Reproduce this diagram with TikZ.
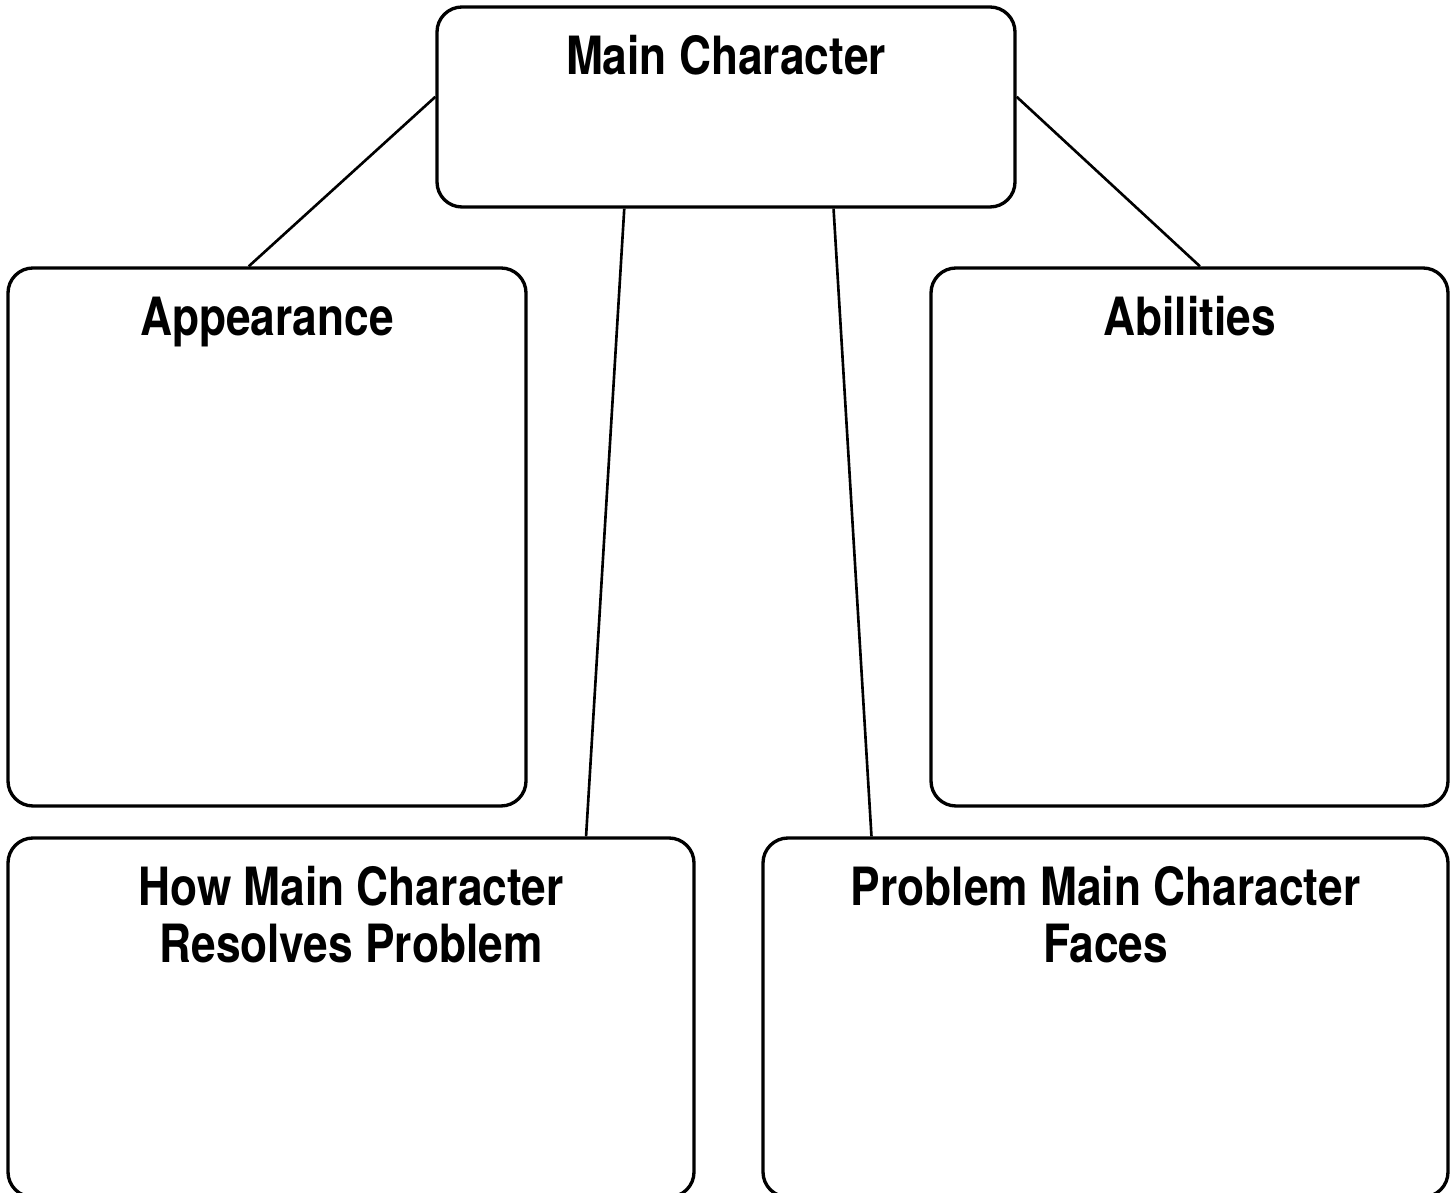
\documentclass[tikz,border=0pt]{standalone}
\usepackage{fontspec}
\setmainfont{TeX Gyre Heros}[FakeStretch=0.84]
\usetikzlibrary{positioning, calc}

\begin{document}
\begin{tikzpicture}[
  font=\bfseries\fontsize{30}{32}\selectfont,
  card/.style={draw, line width=1.9pt, rounded corners=0.5cm, inner sep=0pt},
  heading/.style={align=center, inner sep=0pt},
  link/.style={line width=1.5pt},
]
  \useasboundingbox (0,0) rectangle (29.1,23.84);

  % Boxes: character on top, four topics below
  \node[card, minimum width=11.56cm, minimum height=4cm]    (main)    at (14.52,21.70) {};
  \node[card, minimum width=10.36cm, minimum height=10.76cm] (looks)   at (5.34,13.10)  {};
  \node[card, minimum width=10.34cm, minimum height=10.76cm] (skills)  at (23.79,13.10) {};
  \node[card, minimum width=13.72cm, minimum height=7.18cm]  (resolve) at (7.02,3.49)   {};
  \node[card, minimum width=13.70cm, minimum height=7.18cm]  (problem) at (22.11,3.49)  {};

  % Headings
  \node[heading, below=0.6cm of main.north]    (mainT)    {Main Character};
  \node[heading, below=0.6cm of looks.north]   (looksT)   {Appearance};
  \node[heading, below=0.6cm of skills.north]  (skillsT)  {Abilities};
  \node[heading, below=0.6cm of resolve.north] (resolveT) {How Main Character\\Resolves Problem};
  \node[heading, below=0.6cm of problem.north] (problemT) {Problem Main Character\\Faces};

  % Connectors
  \draw[link] ($(main.north west)!0.45!(main.south west)$) -- ($(looks.north west)!0.465!(looks.north east)$);
  \draw[link] ($(main.north east)!0.45!(main.south east)$) -- ($(skills.north west)!0.52!(skills.north east)$);
  \draw[link] ($(main.south west)!0.325!(main.south east)$) -- ($(resolve.north west)!0.841!(resolve.north east)$);
  \draw[link] ($(main.south west)!0.685!(main.south east)$) -- ($(problem.north west)!0.16!(problem.north east)$);
\end{tikzpicture}
\end{document}
